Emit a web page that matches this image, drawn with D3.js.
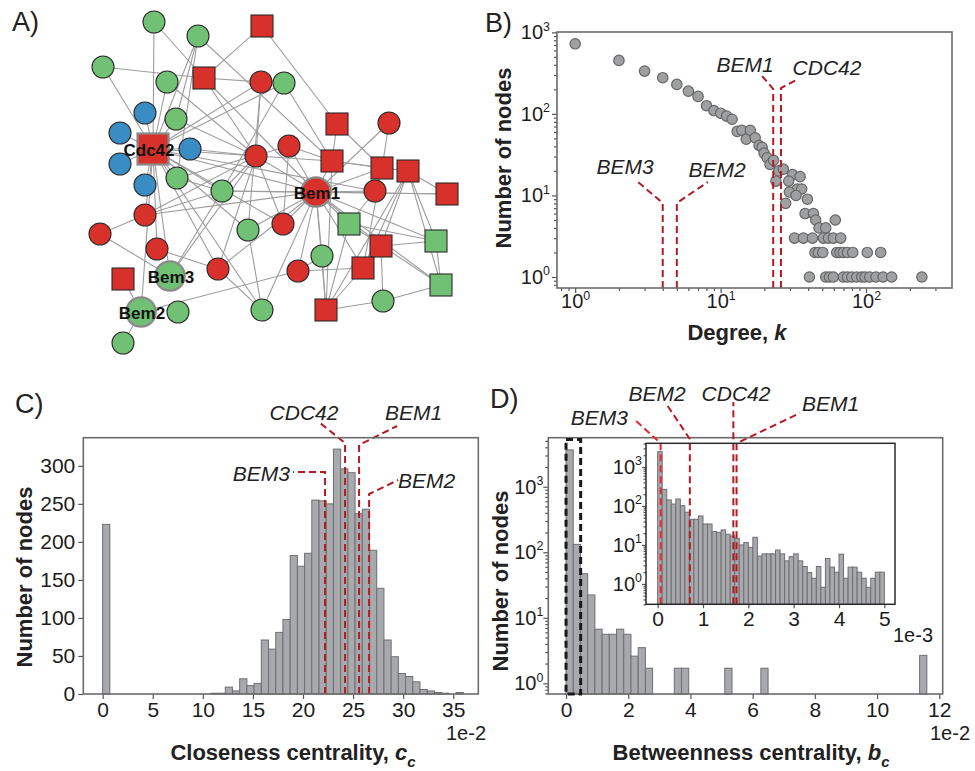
<!DOCTYPE html>
<html lang="en">
<head>
<meta charset="UTF-8">
<title>Network degree and centrality</title>
<style>
  body { margin: 0; background: #fff; }
  svg { display: block; font-family: "Liberation Sans", Arial, Helvetica, sans-serif; }
</style>
</head>
<body>
<div id="chart"></div>
<script src="https://cdn.jsdelivr.net/npm/d3@7"></script>
<script>
// ---------- data ----------
// A) sub-network: [layoutX, layoutY, colour, shape, label]
const netNodes = [
  [64, 12, 'g', 'c'], [108, 26, 'g', 'c'], [172, 16, 'r', 's'], [13, 57, 'g', 'c'],
  [77, 72, 'g', 'c'], [114, 68, 'r', 's'], [171, 72, 'r', 'c'], [194, 73, 'g', 'c'],
  [55, 103, 'b', 'c'], [86, 109, 'g', 'c'], [30, 123, 'b', 'c'], [63, 139, 'r', 's', 'Cdc42'],
  [100, 139, 'b', 'c'], [30, 154, 'b', 'c'], [87, 168, 'g', 'c'], [55, 175, 'b', 'c'],
  [247, 114, 'r', 's'], [299, 113, 'r', 'c'], [199, 136, 'r', 'c'], [166, 146, 'r', 'c'],
  [242, 151, 'r', 's'], [292, 158, 'r', 's'], [318, 161, 'r', 's'], [132, 181, 'g', 'c'],
  [226, 182, 'r', 'c', 'Bem1'], [285, 181, 'r', 'c'], [357, 184, 'r', 's'], [55, 205, 'r', 'c'],
  [10, 224, 'r', 'c'], [158, 220, 'g', 'c'], [193, 214, 'r', 'c'], [259, 214, 'g', 's'],
  [291, 236, 'r', 's'], [346, 231, 'g', 's'], [67, 239, 'r', 'c'], [232, 246, 'g', 'c'],
  [80, 266, 'g', 'c', 'Bem3'], [128, 259, 'r', 'c'], [208, 261, 'r', 'c'], [273, 258, 'r', 's'],
  [33, 269, 'r', 's'], [351, 275, 'g', 's'], [293, 291, 'g', 'c'], [51, 302, 'g', 'c', 'Bem2'],
  [88, 302, 'g', 'c'], [172, 300, 'g', 'c'], [236, 300, 'r', 's'], [33, 333, 'g', 'c']
];
// edges, 1-based node numbers
const netEdges = [
  [1,12],[1,6],[2,12],[2,10],[2,21],[2,15],[3,6],[3,17],[4,6],[4,12],[5,12],[5,20],[6,7],[6,25],
  [6,20],[7,20],[7,12],[8,21],[8,12],[8,24],[9,12],[10,12],[11,12],[13,12],[14,12],[16,12],[15,12],
  [13,20],[17,21],[17,22],[18,22],[18,25],[19,21],[19,25],[19,31],[20,25],[20,21],[20,38],[21,25],
  [21,22],[21,23],[21,47],[22,23],[22,25],[22,26],[23,27],[23,34],[23,33],[23,42],[23,40],[25,26],
  [25,27],[25,30],[25,31],[25,32],[25,33],[25,36],[25,38],[25,39],[25,40],[25,47],[25,24],[25,12],
  [25,28],[25,46],[25,34],[25,42],[28,29],[28,12],[28,20],[29,37],[12,37],[12,44],[12,24],[12,30],
  [12,31],[12,38],[12,35],[12,46],[12,20],[12,26],[41,44],[44,48],[44,39],[37,24],[37,20],[38,46],
  [46,30],[47,32],[47,40],[47,36],[47,43],[47,23],[43,42],[43,33],[42,34],[42,32],[34,33],[34,32],
  [40,39],[40,33],[40,22],[32,26],[24,20],[30,7],[31,20],[35,38],[15,24],[24,27],[36,39],[28,24],
  [10,20],[15,19]
];

// B) degree distribution
const degreeK = [1,2,3,4,5,6,7,8,9,10,11,12,13,14,15,16,17.3,18.4,19.3,19.9,20.9,21.9,23.1,24,25.1,27,
  31.2,35.2,29.4,33.7,36.1,29.7,33,39.5,28,38.1,43.5,45.1,47.5,52.8,61.5,
  32.2,37.1,42.8,50.9,55.1,59.6,67,
  44.6,47,50.4,62.9,66.2,69.8,74.4,81,102,126,
  40.8,52.8,56,59.6,69.8,74.4,79.8,86.3,93.4,98.4,106,117,131,150,242];
const degreeCount = [724,453,335,278,230,190,164,126,110,102,94,86,61,63,49,63,51,41,39,33,29,24,27,15,20,21,
  18,17,15,12,12,11,10,9,8,6,6,5,4,4,5,
  3,3,3,3,3,3,3,
  2,2,2,2,2,2,2,2,2,2,
  1,1,1,1,1,1,1,1,1,1,1,1,1,1,1];
const genes = ['BEM3', 'BEM2', 'BEM1', 'CDC42'];
const geneDegree = [4, 5, 23, 26];

// C) closeness centrality histogram (x in 1e-2)
const closenessBinWidth = 0.72;
const closenessCounts = [223,0,0,0,0,0,0,0,0,0,0,0,0,0,0,1,1,9,4,20,11,14,71,59,81,98,182,168,185,255,
  254,250,322,296,291,237,243,189,139,71,49,27,23,16,6,4,2,1,0,2];
const geneCloseness = [22.2, 26.6, 25.6, 24.2];

// D) betweenness centrality histogram (x in 1e-2) and zoomed inset (x in 1e-3)
const betweennessBinWidth = 0.232;
const betweennessCounts = [3650,132,47,22.3,6.7,5.6,5.6,6.7,5.6,2.6,3.5,1.7,0,0,0,1.7,1.7,0,0,0,0,0,1.7,0,0,
  0,0,1.7,0,0,0,0,0,0,0,0,0,0,0,0,0,0,0,0,0,0,0,0,0,2.67];
const insetBinWidth = 0.1;
const insetCounts = [2470,267,143,112,151,102,69,45.5,45.5,55.4,34.5,34.5,22,21.1,24.3,18.8,17,14.8,10,11.5,
  8.7,15.7,5.2,5.9,5.9,5.9,7.4,5.9,3.9,5.0,5.9,3.9,2.8,1.95,1.4,2.8,0.82,4.5,2.7,2.0,
  5.8,1.4,2.7,2.7,2.0,1.4,0.82,1.4,2.0,2.0];
const geneBetweenness = [0.066, 0.71, 1.74, 1.67];

const xTicksC = [0, 5, 10, 15, 20, 25, 30, 35];
const xTicksD = [0, 2, 4, 6, 8, 10, 12];
const xTicksInset = [0, 1, 2, 3, 4, 5];

// ---------- drawing ----------
const FONT = '"Liberation Sans", Arial, Helvetica, sans-serif';
const RED = '#b31b24';
const BAR_FILL = '#a8a9ac';
const BAR_EDGE = '#6e6f72';
const BOX = '#6c6c6c';

const svg = d3.select('#chart').append('svg')
  .attr('width', 975).attr('height', 771);

function styleAxis(g, size) {
  g.attr('font-size', null).attr('font-family', null);
  g.select('.domain').remove();
  g.selectAll('.tick line').attr('stroke', '#555').attr('stroke-width', 1.2);
  g.selectAll('.tick text').attr('font-size', size).attr('fill', '#1c1c1c').attr('font-family', FONT);
}

function logTicks(scale) {
  const [lo, hi] = scale.domain();
  const major = [], minor = [];
  for (let e = Math.floor(Math.log10(lo)); e <= Math.ceil(Math.log10(hi)); e++) {
    for (let m = 1; m < 10; m++) {
      const v = +(m * Math.pow(10, e)).toPrecision(6);
      if (v < lo || v > hi) continue;
      (m === 1 ? major : minor).push(v);
    }
  }
  return { major, minor };
}

function powerLabels(g) {
  g.selectAll('.tick text').each(function(d) {
    const t = d3.select(this).text(null);
    t.append('tspan').text('10');
    t.append('tspan').attr('dy', '-0.7em').attr('font-size', '0.62em').text(Math.round(Math.log10(d)));
  });
}

function logAxis(axisFn, scale, pos, size, major, minorLen, pad) {
  const t = logTicks(scale);
  const g = svg.append('g').attr('transform', pos);
  g.call(axisFn(scale).tickValues(t.minor).tickSize(minorLen).tickFormat(''));
  styleAxis(g, size);
  const g2 = svg.append('g').attr('transform', pos);
  g2.call(axisFn(scale).tickValues(t.major).tickSize(major).tickPadding(pad));
  styleAxis(g2, size);
  powerLabels(g2);
}

// histogram bars; index kept so empty bins do not shift the rest
function bars(counts, binWidth, xs, ys, base) {
  const bins = counts.map((v, i) => ({ v, i })).filter(d => d.v > 0);
  svg.append('g').selectAll('rect').data(bins).join('rect')
    .attr('x', d => xs(d.i * binWidth))
    .attr('width', xs(binWidth) - xs(0))
    .attr('y', d => ys(d.v)).attr('height', d => base - ys(d.v))
    .attr('fill', BAR_FILL).attr('stroke', BAR_EDGE).attr('stroke-width', 1);
}

function box(x0, y0, x1, y1, color, w) {
  svg.append('rect').attr('x', x0).attr('y', y0).attr('width', x1 - x0).attr('height', y1 - y0)
    .attr('fill', 'none').attr('stroke', color).attr('stroke-width', w);
}

function panelLetter(txt, x, y) {
  svg.append('text').attr('x', x).attr('y', y).attr('font-size', 27).attr('fill', '#222').text(txt);
}

function yLabel(x, y) {
  svg.append('text').attr('transform', `translate(${x},${y}) rotate(-90)`)
    .attr('text-anchor', 'middle').attr('dominant-baseline', 'central')
    .attr('font-size', 22).attr('font-weight', 'bold').attr('fill', '#222')
    .text('Number of nodes');
}

function xLabel(x, y, main, sym, sub) {
  const t = svg.append('text').attr('x', x).attr('y', y).attr('text-anchor', 'middle')
    .attr('font-size', 22).attr('font-weight', 'bold').attr('fill', '#222');
  t.append('tspan').text(main);
  t.append('tspan').attr('font-style', 'italic').text(sym);
  if (sub) t.append('tspan').attr('font-style', 'italic').attr('font-size', '0.68em').attr('dy', '0.45em').text(sub);
}

function callout(pts, color) {
  svg.append('path').attr('d', d3.line()(pts)).attr('fill', 'none')
    .attr('stroke', color || RED).attr('stroke-width', 2).attr('stroke-dasharray', '7,4');
}

function geneText(txt, x, y, anchor) {
  svg.append('text').attr('x', x).attr('y', y).attr('text-anchor', anchor || 'middle')
    .attr('font-size', 21).attr('font-style', 'italic').attr('fill', '#222').text(txt);
}

// ---------- A) network ----------
const netX = d3.scaleLinear().domain([0, 380]).range([90, 470]);
const netY = d3.scaleLinear().domain([0, 350]).range([10, 360]);
const netColor = { r: '#d8302a', g: '#70c174', b: '#3a8dc4' };

svg.append('g').selectAll('line').data(netEdges).join('line')
  .attr('x1', d => netX(netNodes[d[0] - 1][0])).attr('y1', d => netY(netNodes[d[0] - 1][1]))
  .attr('x2', d => netX(netNodes[d[1] - 1][0])).attr('y2', d => netY(netNodes[d[1] - 1][1]))
  .attr('stroke', '#9d9d9d').attr('stroke-width', 1.1);

const nodeG = svg.append('g');
netNodes.forEach(n => {
  const big = !!n[4];
  const cx = netX(n[0]), cy = netY(n[1]);
  const stroke = big ? '#8a8a8a' : '#2a2a2a';
  const sw = big ? 2.2 : 1.1;
  if (n[3] === 'c') {
    nodeG.append('circle').attr('cx', cx).attr('cy', cy).attr('r', big ? 14.7 : 11)
      .attr('fill', netColor[n[2]]).attr('stroke', stroke).attr('stroke-width', sw);
  } else {
    const s = big ? 31 : 22;
    nodeG.append('rect').attr('x', cx - s / 2).attr('y', cy - s / 2).attr('width', s).attr('height', s)
      .attr('fill', netColor[n[2]]).attr('stroke', stroke).attr('stroke-width', sw);
  }
});
netNodes.filter(n => n[4]).forEach(n => {
  svg.append('text').attr('x', netX(n[0]) + (n[4] === 'Cdc42' ? -4 : 1)).attr('y', netY(n[1]) + 7)
    .attr('text-anchor', 'middle').attr('font-size', 17).attr('font-weight', 'bold').attr('fill', '#111')
    .text(n[4]);
});
panelLetter('A)', 12, 31);

// ---------- B) degree distribution ----------
const bX = d3.scaleLog().domain([0.75, 390]).range([557, 952]);
const bY = d3.scaleLog().domain([0.733, 1010]).range([288, 32]);

logAxis(d3.axisBottom, bX, 'translate(0,288)', 20, 5, 3, 1);
logAxis(d3.axisLeft, bY, 'translate(557,0)', 20, 5, 3, 2);

svg.append('g').selectAll('circle').data(degreeK).join('circle')
  .attr('cx', d => bX(d)).attr('cy', (d, i) => bY(degreeCount[i])).attr('r', 5.2)
  .attr('fill', '#9fa0a2').attr('stroke', '#666').attr('stroke-width', 1.2);

{
  const bot = 288;
  const x = geneDegree.map(k => bX(k));
  callout([[x[0], bot], [x[0], 203], [x[0] - 26, 181]]);
  geneText('BEM3', 625, 174);
  callout([[x[1], bot], [x[1], 203], [x[1] + 31, 182]]);
  geneText('BEM2', 717, 177);
  callout([[x[2], bot], [x[2], 89], [x[2] - 12, 75]]);
  geneText('BEM1', 745, 72);
  callout([[x[3], bot], [x[3], 88], [x[3] + 17, 79]]);
  geneText('CDC42', 827, 75);
}
box(557, 32, 952, 288, BOX, 1.6);
yLabel(503, 158);
xLabel(737, 340, 'Degree, ', 'k');
panelLetter('B)', 485, 32);

// ---------- C) closeness ----------
const cX = d3.scaleLinear().domain([-1.93, 37.5]).range([83.3, 478.3]);
const cY = d3.scaleLinear().domain([0, 337]).range([694, 437.7]);

bars(closenessCounts, closenessBinWidth, cX, cY, 694);

{
  const g = svg.append('g').attr('transform', 'translate(0,694)')
    .call(d3.axisBottom(cX).tickValues(xTicksC).tickSize(5).tickPadding(3));
  styleAxis(g, 21);
  const gy = svg.append('g').attr('transform', 'translate(83.3,0)')
    .call(d3.axisLeft(cY).tickValues([0, 50, 100, 150, 200, 250, 300]).tickSize(5).tickPadding(3));
  styleAxis(gy, 21);
}
{
  const bot = 694;
  const x = geneCloseness.map(v => cX(v));
  callout([[x[0], bot], [x[0], 472], [293, 472]]);
  geneText('BEM3', 290, 481, 'end');
  callout([[x[3], bot], [x[3], 443], [x[3] - 25, 423]]);
  geneText('CDC42', 304, 420);
  callout([[x[2], bot], [x[2], 445], [x[2] + 38, 426]]);
  geneText('BEM1', 385, 420, 'start');
  callout([[x[1], bot], [x[1], 494], [x[1] + 29, 480]]);
  geneText('BEM2', 398, 488, 'start');
}
box(83.3, 437.7, 478.3, 694, BOX, 1.6);
svg.append('text').attr('x', 486).attr('y', 740).attr('text-anchor', 'end')
  .attr('font-size', 20).attr('fill', '#1c1c1c').text('1e-2');
yLabel(24, 577);
xLabel(293, 760, 'Closeness centrality, ', 'c', 'c');
panelLetter('C)', 15, 413);

// ---------- D) betweenness ----------
const dX = d3.scaleLinear().domain([-0.57, 12.11]).range([548.3, 942.7]);
const dY = d3.scaleLog().domain([0.687, 5600]).range([694, 437.7]);

bars(betweennessCounts, betweennessBinWidth, dX, dY, 694);

{
  const g = svg.append('g').attr('transform', 'translate(0,694)')
    .call(d3.axisBottom(dX).tickValues(xTicksD).tickSize(5).tickPadding(3));
  styleAxis(g, 21);
}
logAxis(d3.axisLeft, dY, 'translate(548.3,0)', 20, 5, 3, 0);
box(548.3, 437.7, 942.7, 694, BOX, 1.6);

// zoom window marker
svg.append('rect').attr('x', dX(0)).attr('y', 439.5)
  .attr('width', dX(0.47) - dX(0)).attr('height', 694 - 439.5)
  .attr('fill', 'none').attr('stroke', '#1a1a1a').attr('stroke-width', 3).attr('stroke-dasharray', '7,4');

svg.append('text').attr('x', 970).attr('y', 740).attr('text-anchor', 'end')
  .attr('font-size', 20).attr('fill', '#1c1c1c').text('1e-2');
yLabel(500, 581);
xLabel(751, 760, 'Betweenness centrality, ', 'b', 'c');
panelLetter('D)', 490, 408);

// inset
const iX = d3.scaleLinear().domain([-0.257, 5.235]).range([646, 895]);
const iY = d3.scaleLog().domain([0.3, 4050]).range([604.3, 443.3]);

svg.append('rect').attr('x', 646).attr('y', 443.3).attr('width', 249).attr('height', 161)
  .attr('fill', '#fff');
bars(insetCounts, insetBinWidth, iX, iY, 604.3);
{
  const g = svg.append('g').attr('transform', 'translate(0,604.3)')
    .call(d3.axisBottom(iX).tickValues(xTicksInset).tickFormat(d3.format('d')).tickSize(4).tickPadding(3));
  styleAxis(g, 21);
}
logAxis(d3.axisLeft, iY, 'translate(646,0)', 20, 4, 2.5, 0);
{
  const bot = 604.3;
  const x = geneBetweenness.map(v => iX(v));
  callout([[x[0], bot], [x[0], 443.3], [635, 420]], '#e8262c');
  geneText('BEM3', 628, 425, 'end');
  callout([[x[1], bot], [x[1], 439], [667, 405]]);
  geneText('BEM2', 657, 401);
  callout([[x[3], bot], [x[3], 402]]);
  geneText('CDC42', 736, 401);
  callout([[x[2], bot], [x[2], 443.3], [800, 413]]);
  geneText('BEM1', 802, 411, 'start');
}
box(646, 443.3, 895, 604.3, '#2b2b2b', 1.5);
svg.append('text').attr('x', 933).attr('y', 642).attr('text-anchor', 'end')
  .attr('font-size', 20).attr('fill', '#1c1c1c').text('1e-3');
</script>
</body>
</html>
